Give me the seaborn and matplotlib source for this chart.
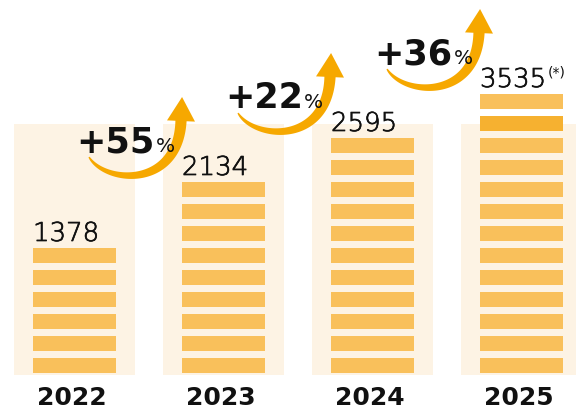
import numpy as np
import pandas as pd
import matplotlib
matplotlib.use("Agg")
import matplotlib.pyplot as plt
from matplotlib.patches import Polygon
import matplotlib.patheffects as pe
import seaborn as sns

# ---- data ----
years = ["2022", "2023", "2024", "2025"]
values = [1378, 2134, 2595, 3535]
stripes = [6, 9, 11, 13]          # number of stacked stripes per column
growth = [55, 22, 36]             # % growth between consecutive years
value_notes = ["", "", "", "(*)"]
highlight = (3, 11)               # (column, stripe) drawn in a darker tone

# ---- style ----
C_STRIPE = "#F9C05B"
C_HILITE = "#F6B130"
C_BG = "#FDF3E4"
C_ARROW = "#F6A800"
C_TEXT = "#111111"

sns.set_theme(style="white")
plt.rcParams["font.family"] = ["DejaVu Sans"]

W, H = 576, 409
fig = plt.figure(figsize=(W / 72, H / 72), dpi=72)
ax = fig.add_axes([0, 0, 1, 1])

PX_X = 149.0   # px per column unit
PX_Y = 22.0    # px per stripe unit

df = pd.DataFrame({"year": years, "frame": [251 / PX_Y] * len(years)})
sns.barplot(data=df, x="year", y="frame", color=C_BG, saturation=1,
            width=121 / PX_X, errorbar=None, linewidth=0, ax=ax, zorder=1)

stripe_h = 15 / PX_Y
stripe_w = 83 / PX_X
stripe_off = 2 / PX_Y
tops = []
for i, n in enumerate(stripes):
    ks = np.arange(n)
    cols = [C_HILITE if (i, k) == highlight else C_STRIPE for k in ks]
    ax.bar(np.full(n, i), stripe_h, bottom=ks + stripe_off, width=stripe_w,
           color=cols, linewidth=0, zorder=2)
    tops.append(n - 1 + stripe_off + stripe_h)

ax.set_xlim(-74.5 / PX_X, (W - 74.5) / PX_X)
ax.set_ylim(-34 / PX_Y, (H - 34) / PX_Y)
ax.set_axis_off()

thin = [pe.withStroke(linewidth=0.7, foreground=C_TEXT)]

# value labels
val_texts = []
for i, v in enumerate(values):
    t = ax.text(i - stripe_w / 2, tops[i] + 7 / PX_Y, f"{v}", ha="left",
                va="baseline", fontsize=26, color=C_TEXT, fontweight="light",
                path_effects=thin, zorder=5)
    val_texts.append(t)

# year labels
for i, y in enumerate(years):
    ax.text(i - 3 / PX_X, -30 / PX_Y, y, ha="center", va="baseline",
            fontsize=25, fontweight="bold", color=C_TEXT)


def px(ox, oy, dx, dy):
    return ox + dx / PX_X, oy - dy / PX_Y


# arrows and growth labels
P = np.array([[14.5, -25], [30.5, 2], [103.5, 7], [106.5, -61]])
tt = np.linspace(0, 1, 80)
B = ((1 - tt) ** 3)[:, None] * P[0] + (3 * (1 - tt) ** 2 * tt)[:, None] * P[1] \
    + (3 * (1 - tt) * tt ** 2)[:, None] * P[2] + (tt ** 3)[:, None] * P[3]
D = (3 * (1 - tt) ** 2)[:, None] * (P[1] - P[0]) + (6 * (1 - tt) * tt)[:, None] * (P[2] - P[1]) \
    + (3 * tt ** 2)[:, None] * (P[3] - P[2])
D = D / np.linalg.norm(D, axis=1)[:, None]
N = np.stack([-D[:, 1], D[:, 0]], axis=1)
wid = (1.2 + 10.0 * tt ** 0.7)[:, None] / 2
left = B + N * wid
right = B - N * wid
d_end, n_end = D[-1], N[-1]
tip = P[3] + d_end * 24
w1 = P[3] + n_end * 14
w2 = P[3] - n_end * 14
shape_px = np.vstack([left, w1, tip, w2, right[::-1]])

fig.canvas.draw()
rend = fig.canvas.get_renderer()
for i, g in enumerate(growth):
    ox, oy = i, tops[i + 1]
    pts = np.array([px(ox, oy, x, y) for x, y in shape_px])
    ax.add_patch(Polygon(pts, closed=True, facecolor=C_ARROW, edgecolor="none",
                         zorder=4))
    tx, ty = px(ox, oy, 2, -30)
    t = ax.text(tx, ty, f"+{g}", ha="left", va="baseline", fontsize=35,
                fontweight="bold", color=C_TEXT, zorder=5)
    bb = t.get_window_extent(renderer=rend)
    xr = ax.transData.inverted().transform((bb.x1, 0))[0]
    ax.text(xr + 1 / PX_X, ty, "%", ha="left", va="baseline", fontsize=20,
            color=C_TEXT, zorder=5)

for i, note in enumerate(value_notes):
    if note:
        bb = val_texts[i].get_window_extent(renderer=rend)
        xr = ax.transData.inverted().transform((bb.x1, 0))[0]
        ax.text(xr + 1 / PX_X, tops[i] + 7 / PX_Y + 11 / PX_Y, note, ha="left",
                va="baseline", fontsize=14, color=C_TEXT, zorder=5)

fig.savefig("out.png", dpi=72)
